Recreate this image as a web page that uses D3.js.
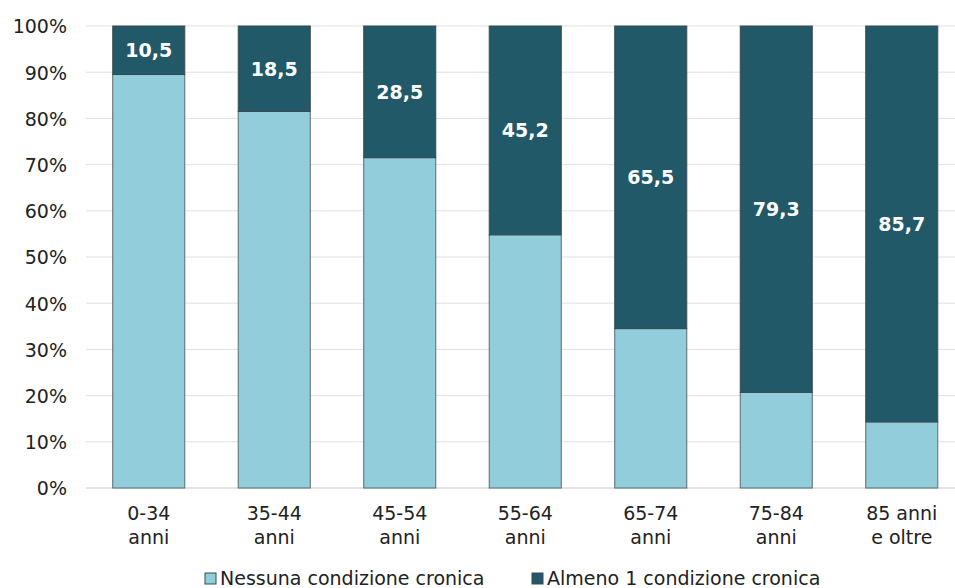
<!DOCTYPE html>
<html><head><meta charset="utf-8">
<script src="https://cdn.jsdelivr.net/npm/d3@7"></script>
<style>body{margin:0;background:#fff;}svg{display:block;font-family:"DejaVu Sans",Verdana,sans-serif;}</style>
</head><body>
<svg id="c" width="955" height="588"></svg>
<script>
const categories = [["0-34","anni"],["35-44","anni"],["45-54","anni"],["55-64","anni"],["65-74","anni"],["75-84","anni"],["85 anni","e oltre"]];
const almeno = [10.5, 18.5, 28.5, 45.2, 65.5, 79.3, 85.7];
const nessuna = almeno.map(v => +(100 - v).toFixed(1));
const yTicks = [0,10,20,30,40,50,60,70,80,90,100];
const seriesNames = ["Nessuna condizione cronica","Almeno 1 condizione cronica"];
const colors = ["#92cddc","#215968"];

const svg = d3.select("#c");
const x = d3.scaleBand().domain(categories.map((d,i)=>i)).range([86, 964.5]).paddingInner(0.426).paddingOuter(0.213);
const y = d3.scaleLinear().domain([0,100]).range([488, 26]);

// gridlines
svg.append("g").selectAll("line").data(yTicks).join("line")
  .attr("x1",86).attr("x2",955).attr("y1",d=>y(d)).attr("y2",d=>y(d))
  .attr("stroke",d=>d===0?"#c8c8c8":"#e0e0e0").attr("stroke-width",1);

// y axis labels
const yAxis = d3.axisLeft(y).tickValues(yTicks).tickFormat(d=>d+"%").tickSize(0).tickPadding(0);
const ya = svg.append("g").attr("transform","translate(67,0)").call(yAxis);
ya.select(".domain").remove();
ya.selectAll("text").attr("font-size",19).attr("fill","#222").attr("font-family","DejaVu Sans, Verdana, sans-serif").attr("dy","0.36em");

const stackData = categories.map((c,i)=>({i, n:nessuna[i], a:almeno[i]}));
const g = svg.append("g");
g.selectAll("rect.n").data(stackData).join("rect").attr("class","n")
  .attr("x",d=>x(d.i)).attr("width",x.bandwidth())
  .attr("y",d=>y(d.n)).attr("height",d=>y(0)-y(d.n))
  .attr("fill",colors[0]).attr("stroke","#5a6a70").attr("stroke-width",1);
g.selectAll("rect.a").data(stackData).join("rect").attr("class","a")
  .attr("x",d=>x(d.i)).attr("width",x.bandwidth())
  .attr("y",d=>y(100)).attr("height",d=>y(d.n)-y(100))
  .attr("fill",colors[1]).attr("stroke","#3a4a50").attr("stroke-width",1);
g.selectAll("text.lab").data(stackData).join("text").attr("class","lab")
  .attr("x",d=>x(d.i)+x.bandwidth()/2).attr("y",d=>(y(100)+y(d.n))/2)
  .attr("dy","0.36em").attr("text-anchor","middle").attr("fill","#fff")
  .attr("font-weight","bold").attr("font-size",19)
  .text(d=>d.a.toFixed(1).replace(".",","));

// x labels
const xl = svg.append("g").selectAll("text").data(categories).join("text")
  .attr("x",(d,i)=>x(i)+x.bandwidth()/2).attr("text-anchor","middle")
  .attr("font-size",19).attr("fill","#222");
xl.append("tspan").attr("x",(d,i)=>x(i)+x.bandwidth()/2).attr("y",520).text(d=>d[0]);
xl.append("tspan").attr("x",(d,i)=>x(i)+x.bandwidth()/2).attr("y",544).text(d=>d[1]);

// legend
const legX = [205, 532];
const lg = svg.append("g").selectAll("g").data(seriesNames).join("g")
  .attr("transform",(d,i)=>`translate(${legX[i]},585)`);
lg.append("rect").attr("x",0).attr("y",-12).attr("width",11).attr("height",11)
  .attr("fill",(d,i)=>colors[i]).attr("stroke","#3a4a50").attr("stroke-width",1);
lg.append("text").attr("x",15).attr("y",0).attr("font-size",19).attr("fill","#222").text(d=>d);
</script>
</body></html>
